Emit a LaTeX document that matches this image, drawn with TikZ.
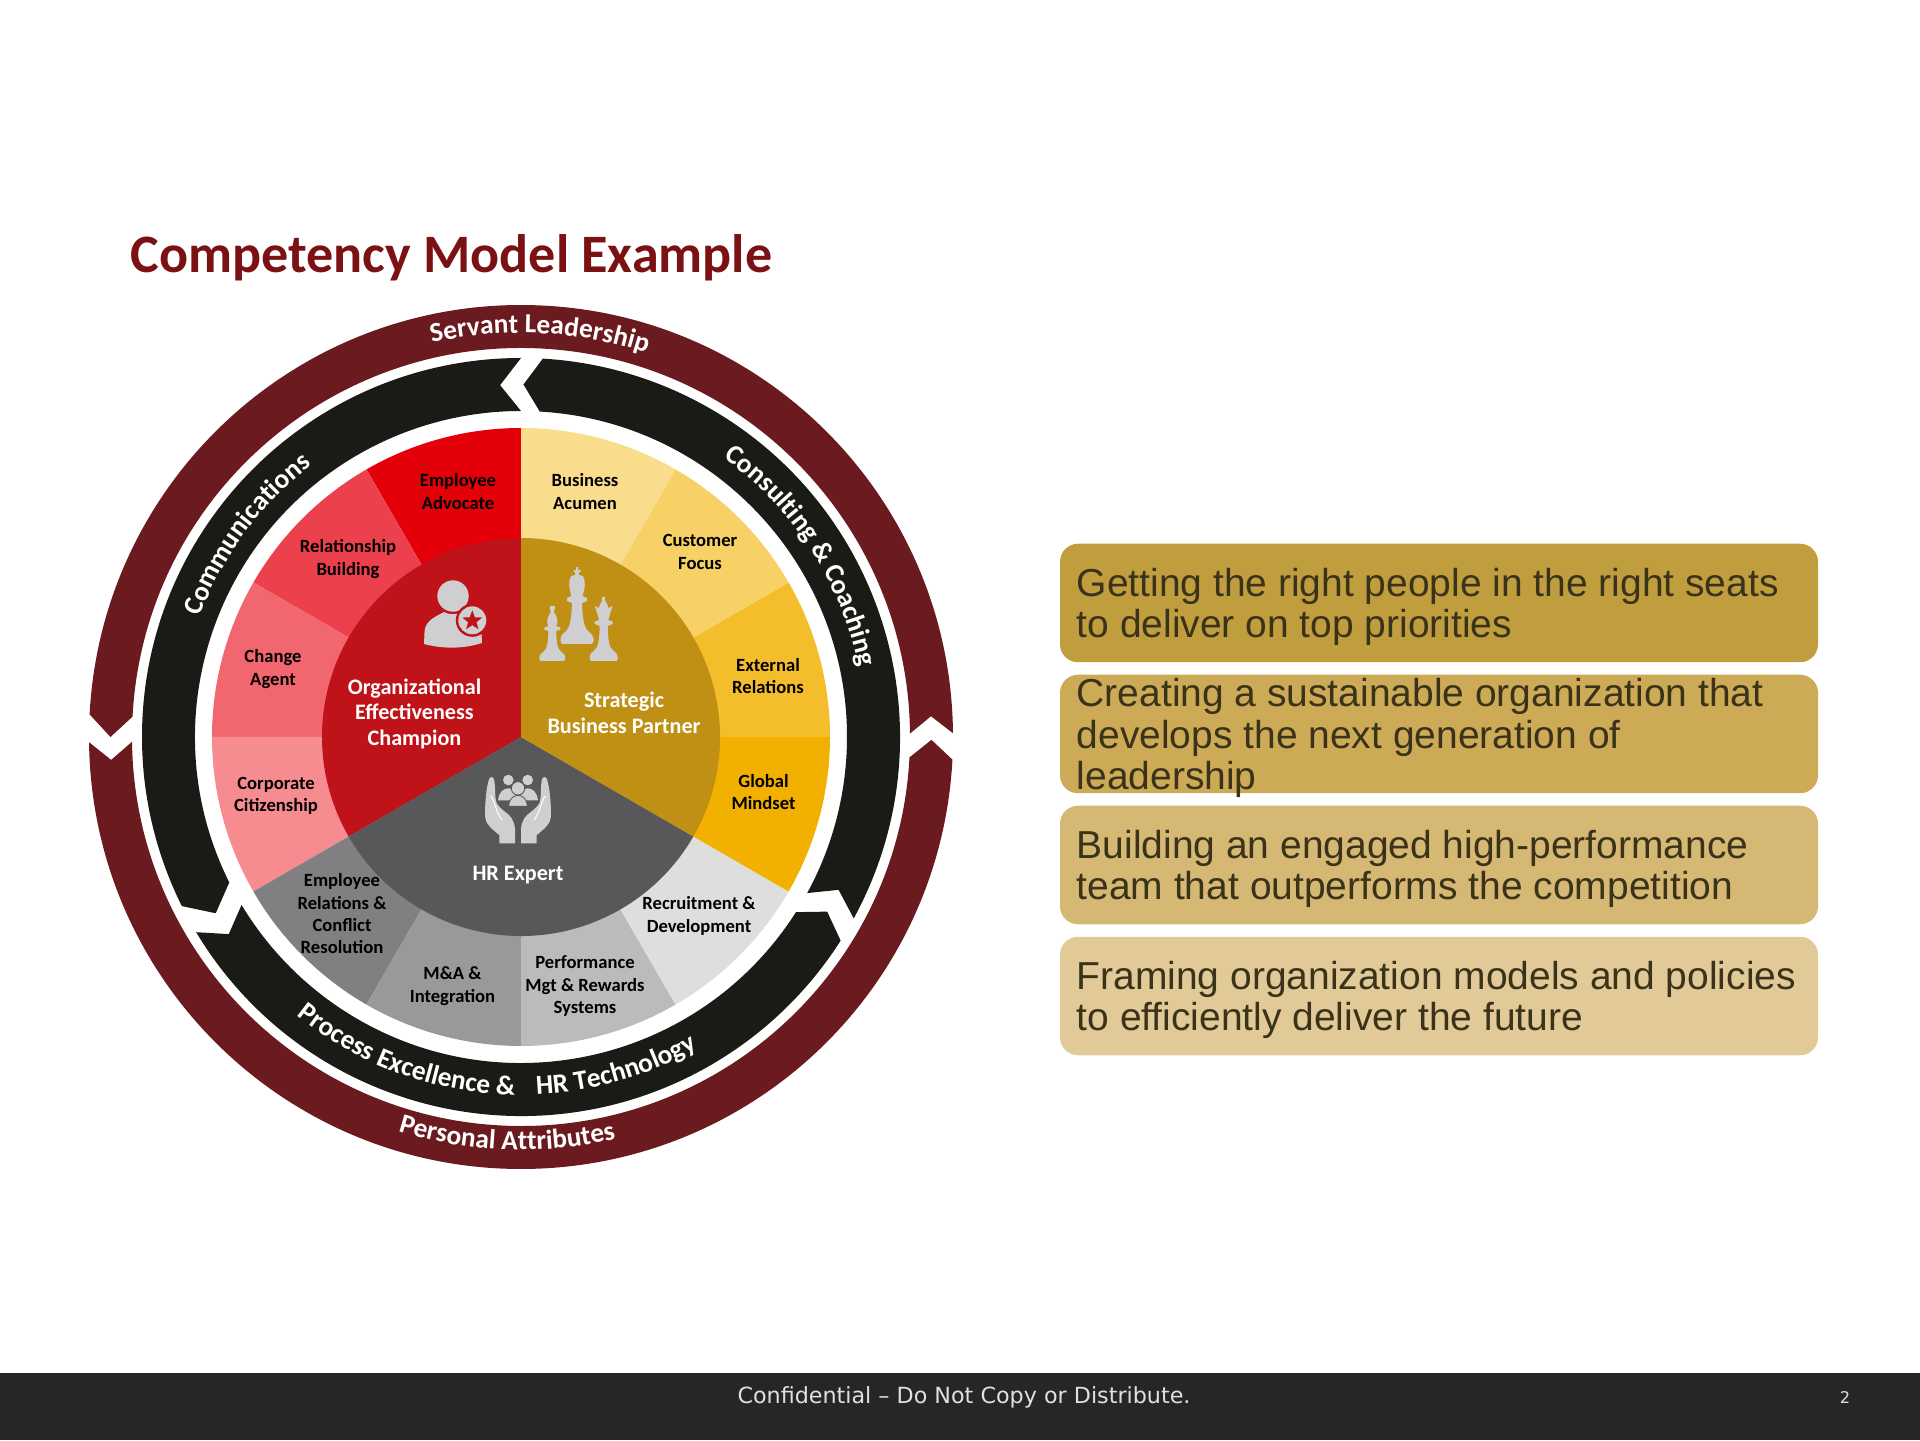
\documentclass[tikz,border=0pt]{standalone}
\usepackage{fontspec}
\setmainfont{Carlito}
\newfontfamily\boxfont{Liberation Sans}
\newfontfamily\footfont{DejaVu Sans}
\usepackage{tikz}
\usetikzlibrary{shapes}
\usetikzlibrary{decorations.text}

\definecolor{wine}{HTML}{6B1B1F}
\definecolor{ringblack}{HTML}{1A1B16}
\definecolor{hubred}{HTML}{BF1219}
\definecolor{hubgold}{HTML}{BF9014}
\definecolor{hubgrey}{HTML}{58585A}
\definecolor{icongrey}{HTML}{CFCFD1}
\definecolor{titlered}{HTML}{7B1113}
\definecolor{boxtextcol}{HTML}{3A331A}
\definecolor{footbar}{HTML}{262626}
\definecolor{redone}{HTML}{E40008}
\definecolor{redtwo}{HTML}{EC404C}
\definecolor{redthree}{HTML}{F2666F}
\definecolor{redfour}{HTML}{F68B90}
\definecolor{greyone}{HTML}{808082}
\definecolor{greytwo}{HTML}{999999}
\definecolor{greythree}{HTML}{BABCBA}
\definecolor{greyfour}{HTML}{DEDEDC}
\definecolor{goldone}{HTML}{F2B100}
\definecolor{goldtwo}{HTML}{F4BD2B}
\definecolor{goldthree}{HTML}{F7D066}
\definecolor{goldfour}{HTML}{F9DC8C}
\definecolor{goalone}{HTML}{C09E3E}
\definecolor{goaltwo}{HTML}{CDAA56}
\definecolor{goalthree}{HTML}{D5B873}
\definecolor{goalfour}{HTML}{E1CA97}

\newcommand{\ringfont}{\fontsize{7.8}{9}\selectfont\bfseries\color{white}}
\newcommand{\ringcell}[3]{\fill[#3] (0,0) -- (#1:3.09) arc (#1:#2:3.09) -- cycle;}
\newcommand{\hubpart}[3]{\fill[#3] (0,0) -- (#1:1.99) arc (#1:#2:1.99) -- cycle;}
\newcommand{\ringband}[7]{\fill[#7] (#1:#6) arc (#1:#2:#6) -- (#3:#5/2+#6/2) -- (#2:#5) arc (#2:#1:#5) -- (#4:#5/2+#6/2) -- cycle;}
\newcommand{\ringtext}[4]{\path[postaction={decorate}, decoration={text along path, text align=center, text={|\ringfont|#1}}] (#2:#4) arc (#2:#3:#4);}

\tikzset{
  cell/.style={font=\fontsize{5.3}{6.35}\selectfont\bfseries, align=center, inner sep=0pt, text=black},
  hubtext/.style={font=\fontsize{6.3}{7.3}\selectfont\bfseries, align=center, inner sep=0pt, text=white},
  goalbox/.style={rectangle, rounded corners=0.18cm, minimum width=7.58cm, minimum height=1.185cm, inner sep=0pt},
  goaltext/.style={font=\boxfont\fontsize{11.09}{11.85}\selectfont, align=left, inner sep=0pt, text=boxtextcol, anchor=west},
  icon/.style={fill=icongrey}
}

\begin{document}
\begin{tikzpicture}
\useasboundingbox (0,0) rectangle (19.2,14.4);

\node at (1.30,11.82) [name=Title, anchor=west, inner sep=0pt, text=titlered, font=\fontsize{15.4}{17}\selectfont\bfseries]{Competency Model Example};

\begin{scope}[shift={(5.21,7.03)}]
\ringband{0.5}{177}{180}{2.9}{3.89}{4.32}{wine}
\ringband{180.7}{357}{359.6}{183.2}{3.89}{4.32}{wine}
\ringband{90}{206.5}{210}{93.4}{3.26}{3.79}{ringblack}
\ringband{-28.6}{86.7}{89.6}{-25.7}{3.26}{3.79}{ringblack}
\ringband{211}{327.5}{330.3}{214}{3.26}{3.79}{ringblack}

\ringcell{90}{120}{redone}
\ringcell{120}{150}{redtwo}
\ringcell{150}{180}{redthree}
\ringcell{180}{210}{redfour}
\ringcell{210}{240}{greyone}
\ringcell{240}{270}{greytwo}
\ringcell{270}{300}{greythree}
\ringcell{300}{330}{greyfour}
\ringcell{330}{360}{goldone}
\ringcell{0}{30}{goldtwo}
\ringcell{30}{60}{goldthree}
\ringcell{60}{90}{goldfour}

\hubpart{90}{210}{hubred}
\hubpart{210}{330}{hubgrey}
\hubpart{-30}{90}{hubgold}

\ringtext{Servant Leadership}{103}{71.6}{4.04}
\ringtext{Personal Attributes}{252.5}{283.5}{4.13}
\ringtext{Communications}{158.6}{128.4}{3.43}
\ringtext{Consulting {\&} Coaching}{54.6}{11.2}{3.45}
\ringtext{Process Excellence {\&}}{230.9}{269.3}{3.58}
\ringtext{HR Technology}{272.1}{300}{3.58}
\end{scope}

\begin{scope}[shift={(4.53,7.93)}, x=0.01cm, y=0.01cm]
\fill[icon] (0,51) circle (15.7);
\fill[icon] (-29,3) -- (-28.5,15) .. controls (-28,27) and (-16,31) .. (-9,35) .. controls (-4,32) and (4,32) .. (9,35) .. controls (16,31) and (28,27) .. (28.5,15) -- (29,4) .. controls (10,-2) and (-10,-2) .. (-29,3) -- cycle;
\fill[hubred] (19.3,26.7) circle (16.5);
\fill[icon] (19.3,26.7) circle (14);
\node at (19.3,26.2) [name=BadgeStar, star, star points=5, star point ratio=2.4, fill=hubred, inner sep=0pt, minimum size=0.21cm]{};
\end{scope}

\begin{scope}[shift={(5.77,7.96)}, x=0.01cm, y=0.01cm]
\fill[icon] (-15,0) .. controls (-18,3) and (-17,9) .. (-12,12) .. controls (-7,16) and (-5.5,25) .. (-5,41) -- (-10,43) -- (-10,46) -- (-5.5,48) .. controls (-8,55) and (-9,62) .. (-6,68) -- (-2,69) -- (-2,72) -- (-3.5,72) -- (-3.5,74) -- (-1,74) -- (-1,77) -- (1,77) -- (1,74) -- (3.5,74) -- (3.5,72) -- (2,72) -- (2,69) -- (6,68) .. controls (9,62) and (8,55) .. (5.5,48) -- (10,46) -- (10,43) -- (5,41) .. controls (5.5,25) and (7,16) .. (12,12) .. controls (17,9) and (18,3) .. (15,0) -- cycle;
\end{scope}

\begin{scope}[shift={(5.523,7.79)}, x=0.01cm, y=0.01cm]
\fill[icon] (-12,0) .. controls (-14,3) and (-13,7) .. (-9,9) .. controls (-5,12) and (-4,20) .. (-4,30) -- (-8,31.5) -- (-8,33.5) -- (-4,35) .. controls (-6,38) and (-5.5,44) .. (-1.5,49) -- (-2.5,52) -- (-2.5,55) -- (2.5,55) -- (2.5,52) -- (1.5,49) .. controls (5.5,44) and (6,38) .. (4,35) -- (8,33.5) -- (8,31.5) -- (4,30) .. controls (4,20) and (5,12) .. (9,9) .. controls (13,7) and (14,3) .. (12,0) -- cycle;
\end{scope}

\begin{scope}[shift={(6.037,7.79)}, x=0.01cm, y=0.01cm]
\fill[icon] (-13,0) .. controls (-15,3) and (-14,8) .. (-10,10) .. controls (-5,13) and (-4.5,22) .. (-4,35) -- (-9,37) -- (-9,39.5) -- (-4.5,41) .. controls (-6,45) and (-7,50) .. (-9,55) -- (-5,53) -- (-3,58) -- (-1.5,60) -- (-1.5,64) -- (1.5,64) -- (1.5,60) -- (3,58) -- (5,53) -- (9,55) .. controls (7,50) and (6,45) .. (4.5,41) -- (9,39.5) -- (9,37) -- (4,35) .. controls (4.5,22) and (5,13) .. (10,10) .. controls (14,8) and (15,3) .. (13,0) -- cycle;
\end{scope}

\begin{scope}[shift={(5.18,5.967)}, x=0.01cm, y=0.01cm]
\fill[icon] (-18.7,0) -- (-18.7,8.3) .. controls (-26,14) and (-33,20) .. (-33,27) .. controls (-33,40) and (-32,55) .. (-29,64) .. controls (-28,67) and (-25,67) .. (-24,64) .. controls (-22,55) and (-24,48) .. (-21.3,40) .. controls (-16,32) and (-9,30) .. (-6.3,25) .. controls (-4,20) and (-3,18) .. (-3,15) -- (-3,0) -- cycle;
\fill[icon] (18.7,0) -- (18.7,8.3) .. controls (26,14) and (33,20) .. (33,27) .. controls (33,40) and (32,55) .. (29,64) .. controls (28,67) and (25,67) .. (24,64) .. controls (22,55) and (24,48) .. (21.3,40) .. controls (16,32) and (9,30) .. (6.3,25) .. controls (4,20) and (3,18) .. (3,15) -- (3,0) -- cycle;
\draw[white, line width=0.3pt] (-28,47) .. controls (-24,47) and (-24,35) .. (-16,23);
\draw[white, line width=0.3pt] (28,47) .. controls (24,47) and (24,35) .. (16,23);
\fill[icon] (-9.7,63.3) circle (5.3);
\fill[icon] (9.7,63.3) circle (5.3);
\fill[icon] (-20,43) .. controls (-19,52) and (-14,55) .. (-9.7,55) .. controls (-5,55) and (-1,52) .. (1,43) -- cycle;
\fill[icon] (20,43) .. controls (19,52) and (14,55) .. (9.7,55) .. controls (5,55) and (1,52) .. (-1,43) -- cycle;
\fill[icon, draw=hubgrey, line width=0.25pt] (-9.5,37) .. controls (-9,44) and (-5,48) .. (0,48) .. controls (5,48) and (9,44) .. (9.5,37) -- cycle;
\fill[icon, draw=hubgrey, line width=0.25pt] (0,55) circle (6.7);
\end{scope}

\node at (4.58,9.485) [name=EmployeeAdvocate, cell]{Employee\\Advocate};
\node at (5.85,9.485) [name=BusinessAcumen, cell]{Business\\Acumen};
\node at (7.00,8.88) [name=CustomerFocus, cell]{Customer\\Focus};
\node at (7.68,7.64) [name=ExternalRelations, cell]{External\\Relations};
\node at (7.635,6.48) [name=GlobalMindset, cell]{Global\\Mindset};
\node at (6.99,5.24) [name=Recruitment, cell]{Recruitment \&\\Development};
\node at (5.85,4.54) [name=Performance, cell]{Performance\\Mgt \& Rewards\\Systems};
\node at (4.525,4.54) [name=Integration, cell]{M\&A \&\\Integration};
\node at (3.42,5.26) [name=EmployeeRelations, cell]{Employee\\Relations \&\\Conflict\\Resolution};
\node at (2.76,6.44) [name=Citizenship, cell]{Corporate\\Citizenship};
\node at (2.73,7.71) [name=ChangeAgent, cell]{Change\\Agent};
\node at (3.48,8.81) [name=Relationship, cell]{Relationship\\Building};

\node at (4.145,7.262) [name=Champion, hubtext]{Organizational\\Effectiveness\\Champion};
\node at (6.24,7.274) [name=Partner, hubtext]{Strategic\\Business Partner};
\node at (5.18,5.645) [name=Expert, hubtext]{HR Expert};

\node at (14.39,8.37) [name=GoalOne, goalbox, fill=goalone]{};
\node at (14.39,7.06) [name=GoalTwo, goalbox, fill=goaltwo]{};
\node at (14.39,5.75) [name=GoalThree, goalbox, fill=goalthree]{};
\node at (14.39,4.44) [name=GoalFour, goalbox, fill=goalfour]{};
\node at (10.76,8.33) [name=GoalOneText, goaltext]{Getting the right people in the right seats\\to deliver on top priorities};
\node at (10.76,7.02) [name=GoalTwoText, goaltext]{Creating a sustainable organization that\\develops the next generation of\\leadership};
\node at (10.76,5.71) [name=GoalThreeText, goaltext]{Building an engaged high-performance\\team that outperforms the competition};
\node at (10.76,4.40) [name=GoalFourText, goaltext]{Framing organization models and policies\\to efficiently deliver the future};

\fill[footbar] (0,0) rectangle (19.2,0.67);
\node at (9.64,0.425) [name=Footer, inner sep=0pt, text=white!88!black, font=\footfont\fontsize{6.33}{7.5}\selectfont]{Confidential – Do Not Copy or Distribute.};
\node at (18.45,0.425) [name=PageNumber, inner sep=0pt, text=white!88!black, font=\footfont\fontsize{4.6}{5.5}\selectfont]{2};
\end{tikzpicture}
\end{document}
